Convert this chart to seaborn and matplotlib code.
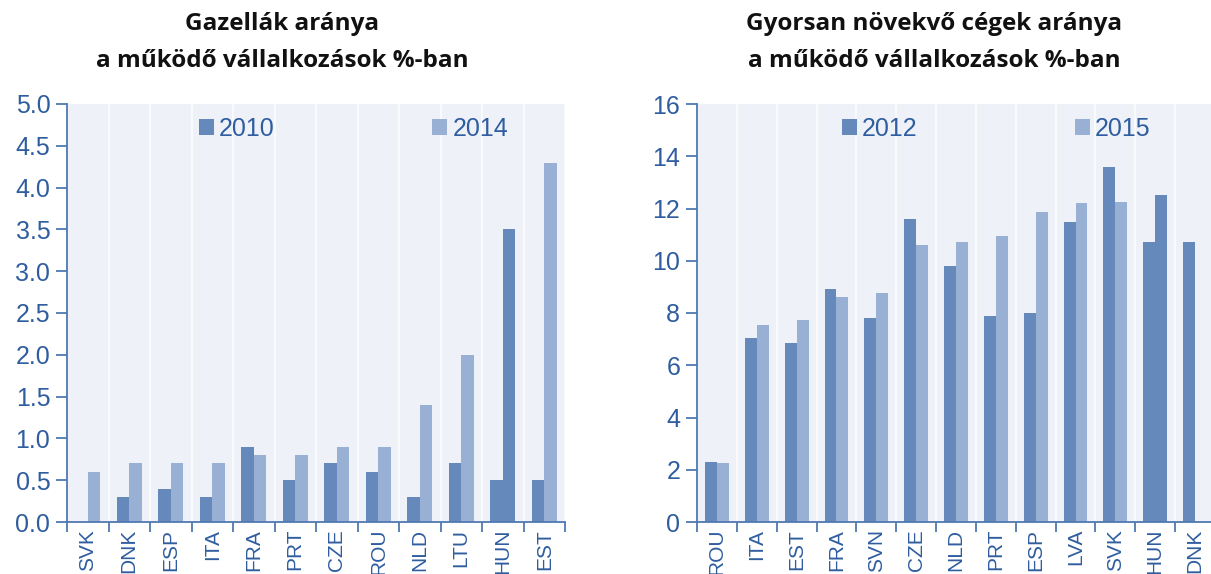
import numpy as np
import pandas as pd
import matplotlib
matplotlib.use("Agg")
import matplotlib.pyplot as plt
from matplotlib import font_manager
from matplotlib.ticker import MultipleLocator, FixedLocator, FormatStrFormatter
from matplotlib.patches import Patch
import seaborn as sns

# ---------------- data ----------------
left_countries = ["SVK", "DNK", "ESP", "ITA", "FRA", "PRT", "CZE", "ROU", "NLD", "LTU", "HUN", "EST"]
left_2010 = [np.nan, 0.3, 0.4, 0.3, 0.9, 0.5, 0.7, 0.6, 0.3, 0.7, 0.5, 0.5]
left_2014 = [0.6, 0.7, 0.7, 0.7, 0.8, 0.8, 0.9, 0.9, 1.4, 2.0, 3.5, 4.3]
left_years = ["2010", "2014"]
left_title = "Gazellák aránya\na működő vállalkozások %-ban"

right_countries = ["ROU", "ITA", "EST", "FRA", "SVN", "CZE", "NLD", "PRT", "ESP", "LVA", "SVK", "HUN", "DNK"]
right_2012 = [2.3, 7.05, 6.85, 8.9, 7.8, 11.6, 9.8, 7.9, 8.0, 11.5, 13.6, 10.7, 10.7]
right_2015 = [2.25, 7.55, 7.75, 8.6, 8.75, 10.6, 10.7, 10.95, 11.85, 12.2, 12.25, 12.5, np.nan]
right_years = ["2012", "2015"]
right_title = "Gyorsan növekvő cégek aránya\na működő vállalkozások %-ban"

highlight = "HUN"

# ---------------- style ----------------
sns.set_style("white")
names = {f.name for f in font_manager.fontManager.ttflist}
tick_font = "Liberation Sans Narrow" if "Liberation Sans Narrow" in names else "Liberation Sans"
title_font = "Open Sans"
plt.rcParams["font.family"] = [tick_font, "DejaVu Sans"]

DARK = "#6689bb"
LIGHT = "#97b0d3"
TXT = "#2f5d9f"
AXC = "#4f78b2"
BG = "#eef2f8"

W, H = 1211, 574
fig = plt.figure(figsize=(W / 100, H / 100), dpi=100)


def panel(rect, countries, s1, s2, years, ymax, ystep, yfmt, title, tx, leg_x):
    ax = fig.add_axes(rect)
    df = pd.DataFrame({
        "country": countries * 2,
        "year": [years[0]] * len(countries) + [years[1]] * len(countries),
        "value": list(s1) + list(s2),
    })
    sns.barplot(data=df, x="country", y="value", hue="year", order=countries,
                hue_order=years, palette=[DARK, LIGHT], width=0.6,
                saturation=1, edgecolor="none", linewidth=0, ax=ax, legend=False)
    # highlight Hungary's second bar in the dark colour
    hi = countries.index(highlight)
    for p in ax.containers[1]:
        cx = p.get_x() + p.get_width() / 2
        if abs(cx - hi) < 0.5:
            p.set_facecolor(DARK)
    n = len(countries)
    ax.set_xlim(-0.5, n - 0.5)
    ax.set_ylim(0, ymax)
    ax.set_facecolor(BG)
    ax.set_xlabel("")
    ax.set_ylabel("")
    for s in ["top", "right"]:
        ax.spines[s].set_visible(False)
    for s in ["left", "bottom"]:
        ax.spines[s].set_color(AXC)
        ax.spines[s].set_linewidth(1.3)
    ax.yaxis.set_major_locator(MultipleLocator(ystep))
    ax.yaxis.set_major_formatter(FormatStrFormatter(yfmt))
    ax.xaxis.set_minor_locator(FixedLocator(np.arange(-0.5, n, 1.0)))
    ax.tick_params(axis="y", which="major", direction="out", length=8, width=1.3,
                   color=AXC, labelcolor=TXT, labelsize=18, pad=4, left=True)
    ax.tick_params(axis="x", which="major", length=0, labelcolor=TXT,
                   labelsize=15, pad=5, labelrotation=90, bottom=True)
    ax.tick_params(axis="x", which="minor", direction="out", length=7, width=1.3,
                   color=AXC, bottom=True)
    ax.grid(False)
    ax.xaxis.grid(True, which="minor", color="white", linewidth=1.4, alpha=0.7)
    ax.set_axisbelow(True)
    # legend
    handles = [Patch(facecolor=DARK, edgecolor="none"), Patch(facecolor=LIGHT, edgecolor="none")]
    leg = ax.legend(handles, years, loc="center left", bbox_to_anchor=(leg_x, 0.94),
                    ncol=2, frameon=False, handlelength=0.6, handleheight=0.6,
                    handletextpad=0.2, columnspacing=6.3, fontsize=18, borderaxespad=0)
    for t in leg.get_texts():
        t.set_color(TXT)
    lines = title.split("\n")
    fig.text(tx, 0.958, lines[0], ha="center", va="center",
             fontsize=17.5, fontweight="bold", family=[title_font, "DejaVu Sans"], color="#111111")
    fig.text(tx, 0.893, lines[1], ha="center", va="center",
             fontsize=17.5, fontweight="bold", family=[title_font, "DejaVu Sans"], color="#111111")
    return ax


y0 = (H - 522) / H
hgt = (522 - 104) / H
panel([67 / W, y0, (565 - 67) / W, hgt], left_countries, left_2010, left_2014,
      left_years, 5.0, 0.5, "%.1f", left_title, 282 / W, 0.245)
panel([697 / W, y0, (1215 - 697) / W, hgt], right_countries, right_2012, right_2015,
      right_years, 16, 2, "%d", right_title, 934 / W, 0.26)

fig.savefig("out.png", dpi=100)
